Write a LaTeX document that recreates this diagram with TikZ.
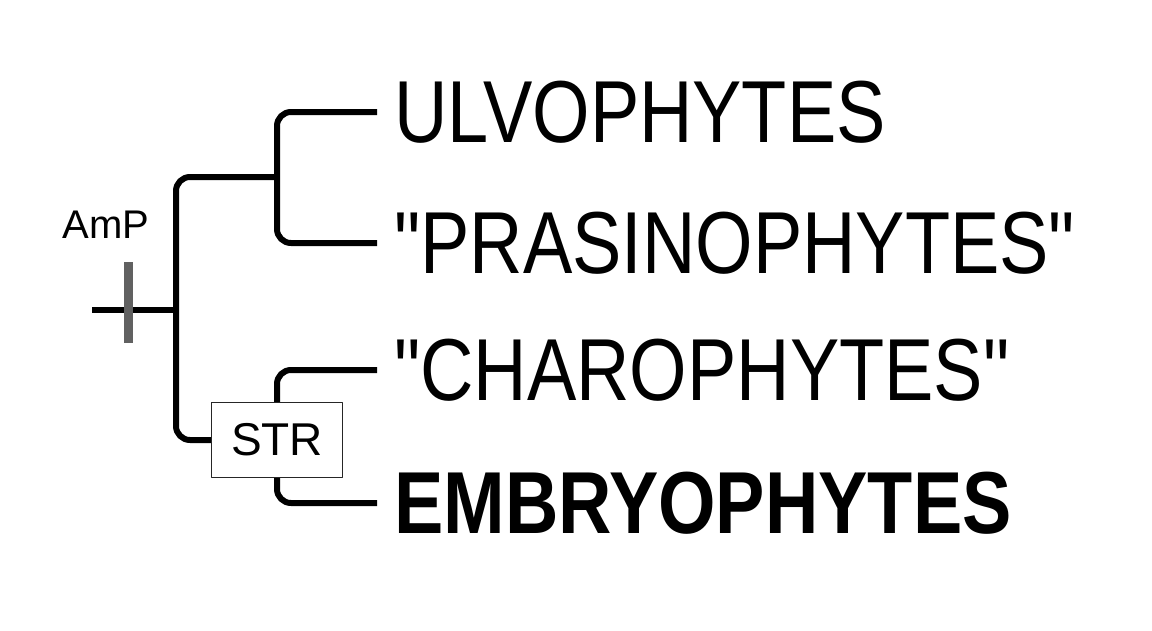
\documentclass[tikz,border=0pt]{standalone}
\usepackage{fontspec}
\setmainfont{Liberation Sans}
\newfontfamily\taxonfont[FakeStretch=0.84]{Liberation Sans}
\usetikzlibrary{positioning}

\begin{document}
\begin{tikzpicture}[x=1pt,y=-1pt,line join=round]
	  \tikzset{branch/.style={line width=6pt,rounded corners=14pt},
	    taxon/.style={inner sep=0pt,anchor=west,font=\taxonfont\fontsize{88}{96}\selectfont},
	    strbox/.style={draw=black!85,line width=1.3pt,fill=white,minimum width=131pt,minimum height=75pt,inner sep=0pt,font=\fontsize{46}{50}\selectfont},
	    ampbar/.style={fill=black!62,minimum width=9pt,minimum height=81pt,inner sep=0pt}}
	  \useasboundingbox (0,0) rectangle (1152,630);

	  % nodes of the tree
	  \coordinate (root) at (92,310);
	  \coordinate (n0) at (176,310);
	  \coordinate (n1) at (277,177);
	  \coordinate (s) at (277,440);
	  \coordinate (la) at (377,112);
	  \coordinate (lb) at (377,243);
	  \coordinate (lc) at (377,370);
	  \coordinate (ld) at (377,503);

	  \draw[branch] (root) -- (n0);
	  \draw[branch] (la) -| (n1) |- (lb);
	  \draw[branch] (lc) -| (s) |- (ld);

	  \node[strbox] (str) at (s) {STR};
	  \draw[branch] (n1) -| (n0) |- (str.west);

	  \node[ampbar] (amp) at (128,302.5) {};
	  \node[inner sep=0pt,anchor=south,font=\fontsize{40}{44}\selectfont,above=23pt of amp,xshift=-22pt] (amplabel) {AmP};

	  \node[taxon,right=17pt of la] (ulvo) {ULVOPHYTES};
	  \node[taxon,right=17pt of lb] (prasino) {"PRASINOPHYTES"};
	  \node[taxon,right=17pt of lc] (charo) {"CHAROPHYTES"};
	  \node[taxon,right=17pt of ld] (embryo) {\bfseries EMBRYOPHYTES};
	\end{tikzpicture}
\end{document}
